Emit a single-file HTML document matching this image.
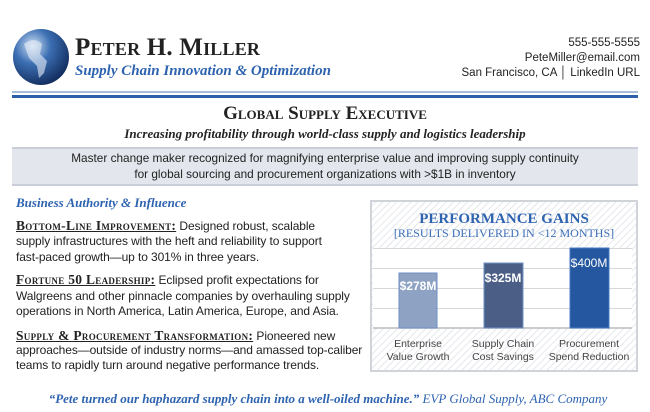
<!DOCTYPE html>
<html><head><meta charset="utf-8"><style>
body{margin:0;width:650px;height:412px;background:#fff;position:relative;overflow:hidden;font-family:"Liberation Sans",sans-serif;color:#222}
.a{position:absolute;white-space:nowrap}
.serif{font-family:"Liberation Serif",serif}
.b{font-size:12px;left:16px;letter-spacing:-0.1px}
.h{font-family:"Liberation Serif",serif;font-weight:bold;text-decoration:underline;font-variant:small-caps;font-size:13.5px;letter-spacing:0.3px}
</style></head><body>
<svg class="a" style="left:12px;top:28px" width="58" height="58"><defs><radialGradient id="g" cx="0.35" cy="0.3" r="0.8"><stop offset="0" stop-color="#cfe0f5"/><stop offset="0.4" stop-color="#3c6fb3"/><stop offset="1" stop-color="#0c2352"/></radialGradient></defs><circle cx="29" cy="29" r="28" fill="url(#g)"/><path d="M12 16 Q22 8 30 16 L28 26 L35 33 L32 45 L27 50 L25 38 L17 30 Z" fill="#e8eef6" opacity="0.6"/></svg>
<div class="a serif" style="left:75px;top:34px;font-size:25px;font-weight:bold;font-variant:small-caps;letter-spacing:0.2px">Peter H. Miller</div>
<div class="a serif" style="left:75px;top:63px;font-size:15px;font-style:italic;font-weight:bold;color:#2e63b0">Supply Chain Innovation &amp; Optimization</div>
<div class="a" style="right:10px;top:36px;font-size:11.5px;text-align:right;line-height:15px">555-555-5555<br>PeteMiller@email.com<br>San Francisco, CA │ LinkedIn URL</div>
<div class="a" style="left:12px;top:91px;width:626px;height:2px;background:#a9bcd8"></div>
<div class="a" style="left:12px;top:95px;width:626px;height:3px;background:#2e5fa8"></div>
<div class="a serif" style="left:0;width:650px;text-align:center;top:103px;font-size:19px;font-weight:bold;font-variant:small-caps">Global Supply Executive</div>
<div class="a serif" style="left:0;width:650px;text-align:center;top:126px;font-size:13px;font-weight:bold;font-style:italic">Increasing profitability through world-class supply and logistics leadership</div>
<div class="a" style="left:12px;top:147px;width:626px;height:35px;background:#e3e6ec;border-top:2px solid #c9ced8;border-bottom:2px solid #c9ced8"></div>
<div class="a" style="left:0;width:650px;text-align:center;top:151px;font-size:11.8px;line-height:15.5px">Master change maker recognized for magnifying enterprise value and improving supply continuity<br>for global sourcing and procurement organizations with &gt;$1B in inventory</div>
<div class="a serif" style="left:16px;top:195px;font-size:13px;font-weight:bold;font-style:italic;color:#2e63b0">Business Authority &amp; Influence</div>
<div class="a b" style="top:218px"><span class="h">Bottom-Line Improvement:</span> Designed robust, scalable</div>
<div class="a b" style="top:234px">supply infrastructures with the heft and reliability to support</div>
<div class="a b" style="top:250px">fast-paced growth—up to 301% in three years.</div>
<div class="a b" style="top:272px"><span class="h">Fortune 50 Leadership:</span> Eclipsed profit expectations for</div>
<div class="a b" style="top:289px">Walgreens and other pinnacle companies by overhauling supply</div>
<div class="a b" style="top:304px">operations in North America, Latin America, Europe, and Asia.</div>
<div class="a b" style="top:328px"><span class="h">Supply &amp; Procurement Transformation:</span> Pioneered new</div>
<div class="a b" style="top:343px">approaches—outside of industry norms—and amassed top-caliber</div>
<div class="a b" style="top:358px">teams to rapidly turn around negative performance trends.</div>
<div class="a serif" style="left:0;width:656px;text-align:center;top:391px;font-size:13px;font-style:italic;color:#2e63b0"><b>“Pete turned our haphazard supply chain into a well-oiled machine.”</b> EVP Global Supply, ABC Company</div>
<svg class="a" style="left:370px;top:200px" width="268" height="172">
<defs><pattern id="p" width="5" height="5" patternUnits="userSpaceOnUse" patternTransform="rotate(45)"><rect width="5" height="5" fill="#fff"/><line x1="0" y1="0" x2="0" y2="5" stroke="#dcdfe5" stroke-width="1.5"/></pattern></defs>
<rect x="1" y="1" width="266" height="170" fill="url(#p)" stroke="#d0d3d8" stroke-width="2"/>
<rect x="3" y="48" width="259" height="80" fill="#fff"/>
<g stroke="#d6d8dc" stroke-width="1"><line x1="3" y1="48.5" x2="262" y2="48.5"/><line x1="3" y1="68.5" x2="262" y2="68.5"/><line x1="3" y1="88.5" x2="262" y2="88.5"/><line x1="3" y1="108.5" x2="262" y2="108.5"/></g>
<line x1="3" y1="128" x2="262" y2="128" stroke="#b8bbc0" stroke-width="1.5"/>
<rect x="29" y="73" width="38" height="55" fill="#8ea3c3" stroke="#6f8fc5"/>
<rect x="114" y="63" width="39" height="65" fill="#4b5f86" stroke="#6f8fc5"/>
<rect x="200" y="48" width="39" height="80" fill="#2457a0" stroke="#4a7bc5"/>
<g fill="#fff" font-family="Liberation Sans,sans-serif" font-size="12" font-weight="bold" text-anchor="middle"><text x="48" y="90">$278M</text><text x="133" y="82">$325M</text><text x="219" y="67" font-weight="normal">$400M</text></g>
<text x="134" y="23" text-anchor="middle" font-family="Liberation Serif,serif" font-weight="bold" font-size="15" fill="#2e63b0">PERFORMANCE GAINS</text>
<text x="134" y="37" text-anchor="middle" font-family="Liberation Serif,serif" font-size="12" fill="#3d6fb8">[RESULTS DELIVERED IN &lt;12 MONTHS]</text>
<g font-family="Liberation Sans,sans-serif" font-size="10.5" fill="#444" text-anchor="middle"><text x="48" y="147">Enterprise</text><text x="48" y="160">Value Growth</text><text x="133" y="147">Supply Chain</text><text x="133" y="160">Cost Savings</text><text x="219" y="147">Procurement</text><text x="219" y="160">Spend Reduction</text></g>
</svg>
</body></html>
